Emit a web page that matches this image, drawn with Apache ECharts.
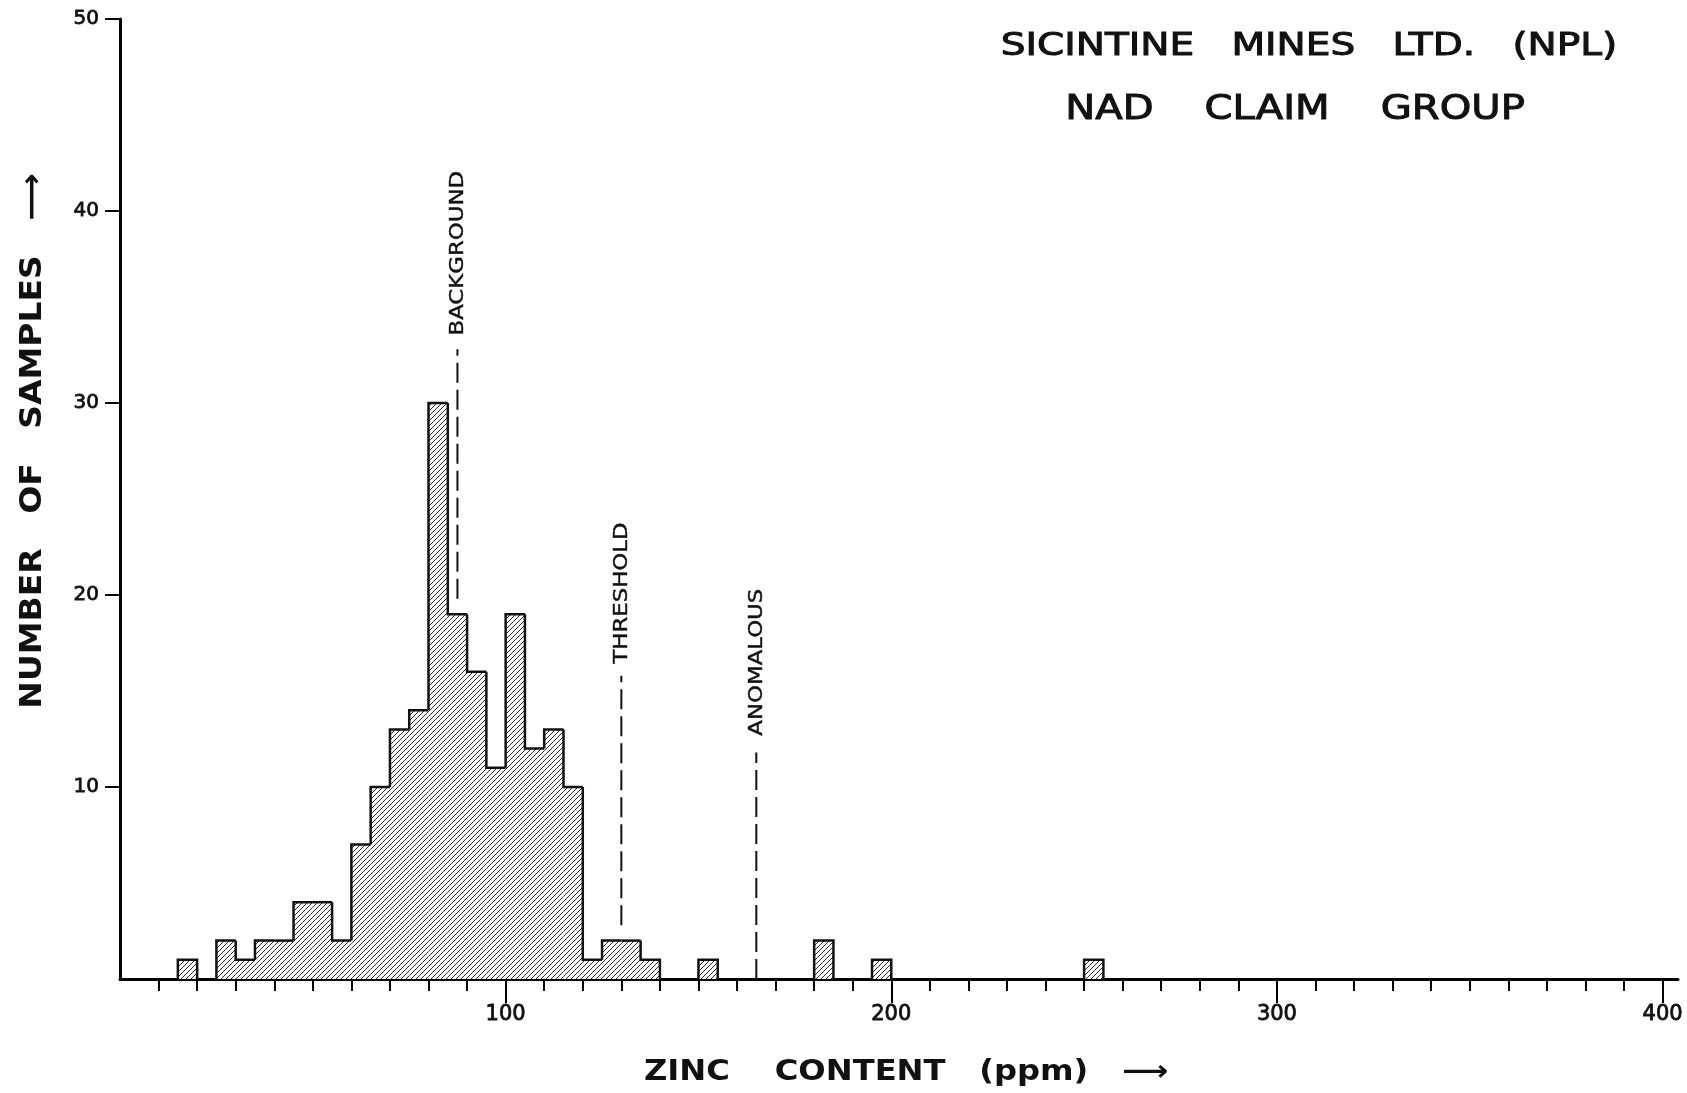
<!DOCTYPE html>
<html>
<head>
<meta charset="utf-8">
<title>Zinc content histogram</title>
<script src="https://cdn.jsdelivr.net/npm/echarts@6/dist/echarts.min.js"></script>
<style>
html, body { margin: 0; padding: 0; background: #fff; }
#main { width: 1687px; height: 1093px; }
</style>
</head>
<body>
<div id="main"></div>
<script>
// 5 ppm bins, only the non-empty ones (lower edge of each bin)
var binLow   = [15, 25, 30, 35, 40, 45, 50, 55, 60, 65, 70, 75, 80, 85, 90, 95, 100, 105, 110, 115, 120, 125, 130, 135, 150, 180, 195, 250];
var binCount = [1, 2, 1, 2, 2, 4, 4, 2, 7, 10, 13, 14, 30, 19, 16, 11, 19, 12, 13, 10, 1, 2, 2, 1, 1, 2, 1, 1];
var binWidth = 5;

// dashed reference lines
var markerName  = ['BACKGROUND', 'THRESHOLD', 'ANOMALOUS'];
var markerX     = [87.5, 130, 165];
var markerFrom  = [19.8, 2.8, 0];
var markerTo    = [32.8, 15.8, 11.8];
var markerTextY = [37.8, 20.1, 16.5];

var xMajorTicks = [100, 200, 300, 400];
var xMinorTicks = [10, 20, 30, 40, 50, 60, 70, 80, 90, 110, 120, 130, 140, 150, 160, 170, 180, 190,
                   210, 220, 230, 240, 250, 260, 270, 280, 290, 310, 320, 330, 340, 350, 360, 370, 380, 390];
var yTicks = [10, 20, 30, 40, 50];

var FONT = '"DejaVu Sans"';
var INK = '#111';

// diagonal hatch used as bar fill
function makeHatch() {
    var s = 5;
    var c = document.createElement('canvas');
    c.width = s; c.height = s;
    var ctx = c.getContext('2d');
    ctx.fillStyle = '#fff';
    ctx.fillRect(0, 0, s, s);
    ctx.strokeStyle = '#2a2a2a';
    ctx.lineWidth = 1;
    ctx.beginPath();
    ctx.moveTo(0, s); ctx.lineTo(s, 0);
    ctx.moveTo(-1, 1); ctx.lineTo(1, -1);
    ctx.moveTo(s - 1, s + 1); ctx.lineTo(s + 1, s - 1);
    ctx.stroke();
    return c;
}
var hatch = { image: makeHatch(), repeat: 'repeat' };

var binData = binLow.map(function (lo, i) {
    return [lo, lo + binWidth, binCount[i]];
});
var markerData = markerName.map(function (n, i) {
    return [markerX[i], markerFrom[i], markerTo[i], markerTextY[i], n];
});

function renderBin(params, api) {
    var i = params.dataIndex;
    var lo = api.value(0), hi = api.value(1), v = api.value(2);
    var prev = (i > 0 && binLow[i - 1] + binWidth === lo) ? binCount[i - 1] : 0;
    var nextAdj = (i < binLow.length - 1 && binLow[i + 1] === hi);
    var bl = api.coord([lo, 0]);
    var tr = api.coord([hi, v]);
    var pts = [api.coord([lo, prev]), api.coord([lo, v]), api.coord([hi, v])];
    if (!nextAdj) pts.push(api.coord([hi, 0]));
    return {
        type: 'group',
        children: [
            { type: 'rect', shape: { x: bl[0], y: tr[1], width: tr[0] - bl[0], height: bl[1] - tr[1] },
              style: { fill: hatch } },
            { type: 'polyline', shape: { points: pts },
              style: { fill: null, stroke: INK, lineWidth: 2.5, lineJoin: 'miter' } }
        ]
    };
}

function renderMarker(params, api) {
    var x = api.value(0);
    var p0 = api.coord([x, api.value(1)]);
    var p1 = api.coord([x, api.value(2)]);
    var pt = api.coord([x, api.value(3)]);
    return {
        type: 'group',
        children: [
            { type: 'line', shape: { x1: p0[0], y1: p0[1], x2: p1[0], y2: p1[1] },
              style: { stroke: INK, lineWidth: 2, lineDash: [20, 7] } },
            { type: 'text', x: pt[0] + 1, y: pt[1], rotation: Math.PI / 2, scaleX: 1.2,
              style: { text: markerName[params.dataIndex], font: '19px ' + FONT, fill: INK,
                       stroke: INK, lineWidth: 0.4, align: 'center', verticalAlign: 'middle' } }
        ]
    };
}

function lettering(text, x, y, size, sx, weight, rot) {
    return {
        type: 'text', x: x, y: y, scaleX: sx, rotation: rot || 0,
        style: { text: text, font: (weight || '') + ' ' + size + 'px ' + FONT, fill: INK,
                 stroke: INK, lineWidth: weight ? 0 : 1, align: 'center', verticalAlign: 'middle' }
    };
}

var tickLabel = { color: INK, fontFamily: 'DejaVu Sans', textBorderColor: INK, textBorderWidth: 0.8 };

var chart = echarts.init(document.getElementById('main'), null, { renderer: 'canvas' });
chart.setOption({
    animation: false,
    backgroundColor: '#fff',
    grid: { left: 120, right: 9, top: 19, bottom: 114, containLabel: false },
    graphic: [
        lettering('SICINTINE   MINES   LTD.   (NPL)', 1309, 47, 32, 1.22),
        lettering('NAD    CLAIM    GROUP', 1295, 110, 34, 1.18),
        lettering('ZINC    CONTENT   (ppm)   ⟶', 906, 1073, 28, 1.15, 'bold'),
        lettering('NUMBER   OF   SAMPLES   ⟶', 33, 441, 30, 1.1, 'bold', Math.PI / 2)
    ],
    xAxis: [
        {   // axis line + short ticks every 10 ppm
            type: 'value', min: 0, max: 404, position: 'bottom',
            axisLine: { show: true, onZero: false, lineStyle: { color: '#000', width: 3 } },
            axisTick: { show: true, customValues: xMinorTicks, length: 12, lineStyle: { color: '#000', width: 2 } },
            axisLabel: { show: false },
            splitLine: { show: false }
        },
        {   // long ticks + labels every 100 ppm
            type: 'value', min: 0, max: 404, position: 'bottom', offset: 0,
            axisLine: { show: false, onZero: false },
            axisTick: { show: true, customValues: xMajorTicks, length: 24, lineStyle: { color: '#000', width: 2 } },
            axisLabel: Object.assign({ customValues: xMajorTicks, margin: 25, fontSize: 21 }, tickLabel),
            splitLine: { show: false }
        }
    ],
    yAxis: {
        type: 'value', min: 0, max: 50, interval: 10,
        axisLine: { show: true, lineStyle: { color: '#000', width: 3 } },
        axisTick: { show: true, customValues: yTicks, length: 15, lineStyle: { color: '#000', width: 2 } },
        axisLabel: Object.assign({ customValues: yTicks, margin: 21, fontSize: 20 }, tickLabel),
        splitLine: { show: false }
    },
    series: [
        {
            type: 'custom',
            renderItem: renderBin,
            data: binData,
            encode: { x: [0, 1], y: 2 },
            silent: true,
            z: 2
        },
        {
            type: 'custom',
            renderItem: renderMarker,
            data: markerData,
            encode: { x: 0, y: [1, 2, 3] },
            silent: true,
            z: 3
        }
    ]
});
</script>
</body>
</html>
